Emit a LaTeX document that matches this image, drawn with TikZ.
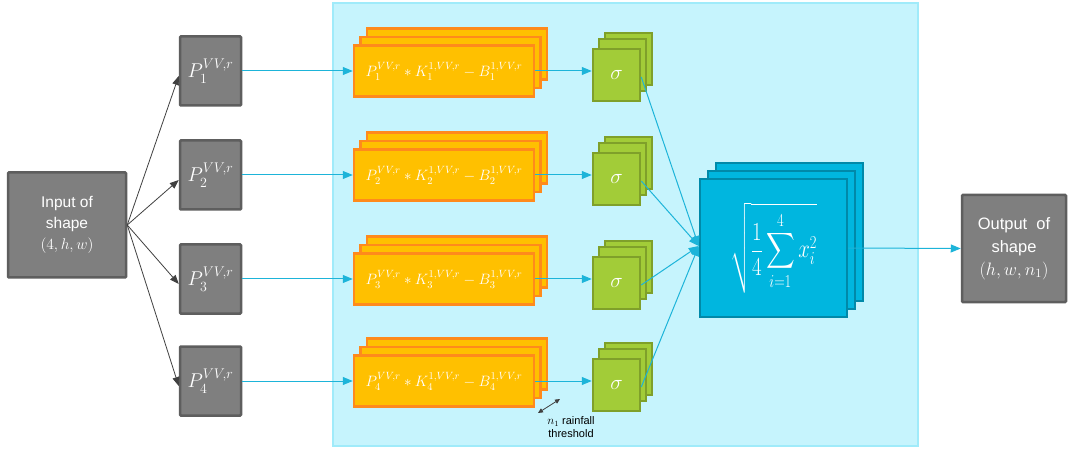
\RequirePackage{fix-cm}
\documentclass[tikz,border=0pt]{standalone}
\usepackage{amsmath}
\usepackage{graphicx}
\usepackage{fontspec}
\setmainfont{Liberation Sans}
\usetikzlibrary{arrows.meta}
\definecolor{gfill}{HTML}{7F7F7F}
\definecolor{gdraw}{HTML}{5E5E5E}
\definecolor{ofill}{HTML}{FFC000}
\definecolor{odraw}{HTML}{FF8A1C}
\definecolor{grfill}{HTML}{A2CC38}
\definecolor{grdraw}{HTML}{7FA02A}
\definecolor{bfill}{HTML}{00B6DF}
\definecolor{bdraw}{HTML}{0089A9}
\definecolor{panelf}{HTML}{C6F4FD}
\definecolor{paneld}{HTML}{A0EBFA}
\definecolor{linec}{HTML}{1DB4D9}
\definecolor{arrg}{HTML}{404040}
\tikzset{
  gbox/.style={rectangle, draw=gdraw, fill=gfill, line width=2.5pt, text=white, inner sep=0pt, rounded corners=1pt, align=center},
  obox/.style={rectangle, draw=odraw, fill=ofill, line width=2.5pt, text=white, inner sep=0pt, minimum width=180pt, minimum height=51pt},
  grbox/.style={rectangle, draw=grdraw, fill=grfill, line width=2.5pt, text=white, inner sep=0pt, minimum width=47pt, minimum height=52pt},
  bbox/.style={rectangle, draw=bdraw, fill=bfill, line width=2.5pt, text=white, inner sep=0pt, minimum width=147pt, minimum height=138pt},
  barrow/.style={draw=linec, line width=1pt, -{Triangle[length=10pt,width=8pt]}},
  garrow/.style={draw=arrg, line width=0.8pt, -{Triangle[length=9pt,width=7pt]}},
  pfont/.style={font=\fontsize{20}{22}\selectfont},
  sfont/.style={font=\fontsize{21}{22}\selectfont},
  ofont/.style={font=\fontsize{15}{16}\selectfont},
}
\begin{document}
\begin{tikzpicture}[x=1pt,y=-1pt]
\useasboundingbox (0,0) rectangle (1074,449);
\fill[white] (0,0) rectangle (1074,449);
\draw[draw=paneld, fill=panelf, line width=2pt] (333,3) rectangle (918,446);

% input
\node[gbox, font=\fontsize{15.5}{21}\selectfont, minimum width=118pt, minimum height=105pt] (in) at (67,225) {Input of\\shape\\$(4,h,w)$};

% rows
\foreach \i/\y in {1/71,2/175,3/279,4/381}{
  \node[gbox, pfont, minimum width=61pt, minimum height=69pt] (p\i) at (210.5,\y) {$P_{\i}^{VV,r}$};
  \node[obox] (oc\i) at (457,\y-17) {};
  \node[obox] (ob\i) at (450.5,\y-8.5) {};
  \node[obox, ofont] (o\i) at (444,\y) {$P_{\i}^{VV,r} * K_{\i}^{1,VV,r} - B_{\i}^{1,VV,r}$};
  \node[grbox] (sc\i) at (628.5,\y-12) {};
  \node[grbox] (sb\i) at (622.5,\y-6) {};
  \node[grbox, sfont] (s\i) at (616.5,\y+4) {$\sigma$};
}

% big box
\node[bbox] (bc) at (789.5,232) {};
\node[bbox] (bb) at (781.5,240) {};
\node[bbox, font=\fontsize{26}{28}\selectfont] (big) at (773.5,248) {\scalebox{0.8}[1]{$\displaystyle\sqrt{\frac{1}{4}\sum_{i=1}^{4} x_i^2}$}};

% output
\node[gbox, font=\fontsize{16.5}{23}\selectfont, minimum width=104pt, minimum height=107pt] (out) at (1014,248.5) {Output\ \ of\\shape\\{\fontsize{18}{23}\selectfont$(h,w,n_1)$}};

% connectors
\foreach \i in {1,2,3,4}{
  \draw[garrow] (in.east) -- ([yshift=-5pt]p\i.west);
  \draw[barrow] (p\i.east) -- (o\i.west);
  \draw[barrow] (o\i.east) -- (s\i.west |- o\i.east);
  \draw[barrow] ([yshift=-2pt]s\i.east) -- ([yshift=2pt]big.west);
}
\draw[barrow] (big.east) -- (out.west);

% annotation
\coordinate (na) at (538,413);
\coordinate (nb) at (560,399);
\draw[arrg, line width=0.8pt, {Triangle[length=5pt,width=4.5pt]}-{Triangle[length=5pt,width=4.5pt]}] (na) -- (nb);
\node[font=\fontsize{11}{13}\selectfont, align=center, inner sep=0pt] (lab) at (571,427) {{\fontsize{12}{13}\selectfont$n_1$} rainfall\\threshold};
\end{tikzpicture}
\end{document}
